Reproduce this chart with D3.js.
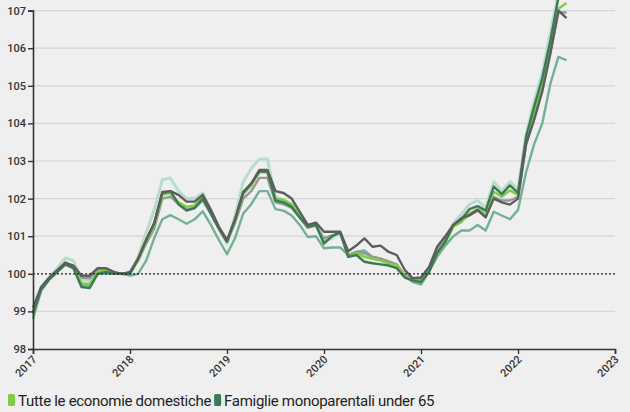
<!DOCTYPE html>
<html><head><meta charset="utf-8">
<script src="https://cdn.jsdelivr.net/npm/d3@7"></script>
<style>
html,body{margin:0;padding:0;background:#efefef;overflow:hidden}
svg{display:block;font-family:Roboto,"Noto Sans",sans-serif}
</style></head><body>
<svg id="c" width="630" height="412"></svg>
<script>
const startYear = 2017;
const yearTicks = [2017, 2018, 2019, 2020, 2021, 2022, 2023];
const valueTicks = [98, 99, 100, 101, 102, 103, 104, 105, 106, 107];

const seriesNames = ["Persone sole 65+", "Persone sole under 65", "Coppie con figli", "Tutte le economie domestiche", "Famiglie monoparentali under 65", "Coppie 65+"];
const seriesColors = ["#b9dccb", "#72b097", "#979797", "#7fcc45", "#3c7a56", "#5d5d5d"];

const mint = [
 98.85, 99.6, 99.9, 100.15, 100.42, 100.35, 99.85, 99.8, 100.1, 100.1, 100.02, 100.0,
 100.0, 100.45, 101.1, 101.7, 102.5, 102.55, 102.2, 102.0, 102.0, 102.15, 101.7, 101.2,
 100.8, 101.55, 102.45, 102.8, 103.05, 103.05, 102.05, 101.95, 101.8, 101.5, 101.25, 101.3,
 100.85, 100.95, 101.1, 100.5, 100.55, 100.5, 100.45, 100.4, 100.3, 100.2, 99.95, 99.8,
 99.72, 100.05, 100.6, 100.9, 101.35, 101.58, 101.85, 101.95, 101.75, 102.45, 102.2, 102.45,
 102.25, 103.7, 104.6, 105.35, 106.4, 107.5, 107.6];
const teal = [
 98.8, 99.55, 99.85, 100.05, 100.25, 100.15, 99.7, 99.68, 100.0, 100.0, 100.0, 100.0,
 99.95, 100.0, 100.35, 100.95, 101.45, 101.56, 101.45, 101.33, 101.45, 101.66, 101.3, 100.9,
 100.52, 100.95, 101.6, 101.85, 102.2, 102.2, 101.72, 101.68, 101.55, 101.3, 100.98, 101.0,
 100.68, 100.7, 100.7, 100.5, 100.58, 100.62, 100.45, 100.4, 100.3, 100.25, 99.95, 99.78,
 99.72, 100.08, 100.45, 100.75, 101.0, 101.15, 101.15, 101.3, 101.15, 101.65, 101.55, 101.45,
 101.7, 102.7, 103.45, 104.0, 105.05, 105.77, 105.68];
const midGray = [
 99.0, 99.6, 99.88, 100.08, 100.25, 100.2, 99.9, 99.88, 100.1, 100.1, 100.02, 100.0,
 100.02, 100.35, 100.8, 101.2, 102.0, 102.05, 101.85, 101.72, 101.75, 101.95, 101.6, 101.2,
 100.85, 101.35, 102.0, 102.2, 102.55, 102.55, 101.9, 101.85, 101.75, 101.5, 101.22, 101.28,
 100.95, 101.02, 101.08, 100.5, 100.58, 100.55, 100.45, 100.4, 100.33, 100.25, 99.95, 99.85,
 99.85, 100.12, 100.62, 100.9, 101.28, 101.42, 101.55, 101.68, 101.52, 102.05, 101.95, 101.95,
 102.05, 103.45, 104.15, 104.9, 105.9, 106.95, 106.95];
const tutte = [
 99.0, 99.6, 99.85, 100.05, 100.25, 100.2, 99.75, 99.72, 100.05, 100.08, 100.0, 100.0,
 100.0, 100.35, 100.85, 101.3, 102.1, 102.15, 101.9, 101.78, 101.82, 102.05, 101.65, 101.2,
 100.85, 101.4, 102.12, 102.35, 102.7, 102.7, 102.0, 101.97, 101.85, 101.55, 101.25, 101.3,
 100.85, 101.0, 101.1, 100.45, 100.55, 100.45, 100.4, 100.35, 100.28, 100.22, 99.92, 99.83,
 99.8, 100.08, 100.55, 100.82, 101.25, 101.38, 101.6, 101.72, 101.58, 102.18, 102.05, 102.22,
 102.1, 103.55, 104.3, 105.0, 106.0, 107.05, 107.2];
const famiglie = [
 98.95, 99.58, 99.85, 100.05, 100.25, 100.15, 99.65, 99.62, 100.0, 100.05, 100.0, 100.0,
 100.0, 100.4, 100.9, 101.35, 102.15, 102.2, 101.85, 101.68, 101.75, 102.0, 101.6, 101.2,
 100.85, 101.45, 102.15, 102.4, 102.72, 102.72, 101.95, 101.9, 101.78, 101.5, 101.25, 101.3,
 100.8, 101.0, 101.1, 100.45, 100.5, 100.32, 100.28, 100.25, 100.22, 100.15, 99.9, 99.82,
 99.78, 100.05, 100.55, 100.85, 101.3, 101.45, 101.72, 101.8, 101.68, 102.32, 102.12, 102.35,
 102.15, 103.65, 104.45, 105.2, 106.2, 107.35, 107.55];
const darkGray = [
 99.1, 99.65, 99.9, 100.1, 100.3, 100.22, 99.95, 99.95, 100.15, 100.15, 100.05, 100.0,
 100.05, 100.4, 100.9, 101.35, 102.18, 102.2, 102.1, 101.92, 101.92, 102.1, 101.7, 101.25,
 100.9, 101.45, 102.18, 102.4, 102.76, 102.76, 102.2, 102.15, 102.0, 101.65, 101.3, 101.36,
 101.12, 101.12, 101.12, 100.6, 100.75, 100.94, 100.72, 100.75, 100.58, 100.5, 100.1, 99.88,
 99.9, 100.18, 100.72, 101.0, 101.3, 101.48, 101.56, 101.7, 101.5, 102.0, 101.9, 101.84,
 102.0, 103.45, 104.1, 104.85, 105.85, 107.0, 106.8];

const allSeries = [mint, teal, midGray, tutte, famiglie, darkGray];

const svg = d3.select("#c");
const x = d3.scaleLinear().domain([2017, 2023]).range([33, 615]);
const y = d3.scaleLinear().domain([98, 107]).range([349, 10.6]);

// grid
svg.append("g").selectAll("line").data(valueTicks.filter(v => v !== 98 && v !== 100)).join("line")
  .attr("x1", x(2017)).attr("x2", x(2023))
  .attr("y1", d => y(d)).attr("y2", d => y(d))
  .attr("stroke", "#d6d6d6").attr("stroke-width", 1.2);

// lines
const line = d3.line().x((d, i) => x(startYear + i / 12)).y(d => y(d));
svg.append("g").selectAll("path").data(allSeries).join("path")
  .attr("d", d => line(d))
  .attr("fill", "none")
  .attr("stroke", (d, i) => seriesColors[i])
  .attr("stroke-width", (d, i) => i === 0 ? 3 : 2.4)
  .attr("stroke-linejoin", "round");

// 100 baseline
svg.append("line").attr("x1", x(2017)).attr("x2", x(2023)).attr("y1", y(100)).attr("y2", y(100))
  .attr("stroke", "#222").attr("stroke-width", 1.3).attr("stroke-dasharray", "2,2");

// axes
const yAxis = svg.append("g").attr("transform", `translate(${x(2017)},0)`)
  .call(d3.axisLeft(y).tickValues(valueTicks).tickSize(5).tickFormat(d3.format("d")));
const xAxis = svg.append("g").attr("transform", `translate(0,${y(98)})`)
  .call(d3.axisBottom(x).tickValues(yearTicks).tickSize(5).tickFormat(d3.format("d")));
[yAxis, xAxis].forEach(g => {
  g.select(".domain").attr("stroke", "#333").attr("stroke-width", 1.6);
  g.selectAll(".tick line").attr("stroke", "#333").attr("stroke-width", 1.4);
  g.selectAll("text").attr("fill", "#333").attr("font-size", 11).attr("font-weight", 500)
   .attr("font-family", "Roboto, sans-serif");
});
yAxis.selectAll("text").attr("x", -7);
xAxis.selectAll("text").attr("text-anchor", "end").attr("dy", 0).attr("y", 0)
  .attr("transform", "translate(4,11) rotate(-45)");

// legend
const legendRows = [[3, 4], [0, 1, 2, 5]];
const lg = svg.append("g").attr("font-family", "Roboto, sans-serif").attr("font-size", 15)
  .attr("letter-spacing", "-0.3");
legendRows.forEach((row, r) => {
  let cx = 8;
  const baseY = 405.5 + r * 18;
  row.forEach(i => {
    lg.append("rect").attr("x", cx).attr("y", baseY - 11.5).attr("width", 7).attr("height", 12).attr("rx", 1.5)
      .attr("fill", seriesColors[i]);
    const t = lg.append("text").attr("x", cx + 10).attr("y", baseY).attr("fill", "#222").text(seriesNames[i]);
    cx += 10 + t.node().getComputedTextLength() + 3;
  });
});
</script>
</body></html>
